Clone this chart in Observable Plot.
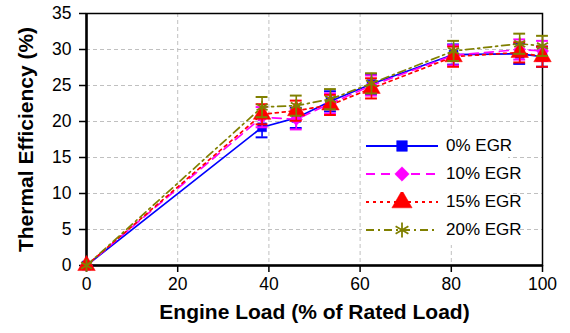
<!DOCTYPE html>
<html>
<head>
<meta charset="utf-8">
<script src="https://cdn.jsdelivr.net/npm/d3@7"></script>
<script src="https://cdn.jsdelivr.net/npm/@observablehq/plot@0.6"></script>
<style>
  html, body { margin: 0; padding: 0; background: #fff; }
  #wrap { position: relative; width: 570px; height: 333px; font-family: Arial, "Liberation Sans", sans-serif; }
  #legend { position: absolute; left: 362px; top: 133px; width: 146px; height: 112px; background: #fff; }
  .row { position: absolute; left: 0; height: 20px; display: flex; align-items: center; }
  .row svg { margin-left: 4px; }
  .row span { font-size: 17px; color: #000; margin-left: 8px; white-space: nowrap; }
</style>
</head>
<body>
<div id="wrap"><div id="legend"></div></div>
<script>
const load = [0, 38.5, 46, 53.5, 62.5, 80.5, 95, 100];
const egr0  = [0, 19.2, 20.5, 22.8, 25.2, 29.3, 29.4, 29.0];
const egr10 = [0, 20.6, 20.3, 22.5, 25.0, 29.2, 30.0, 29.8];
const egr15 = [0, 21.0, 21.5, 22.3, 24.6, 29.0, 29.6, 29.0];
const egr20 = [0, 22.0, 22.2, 23.1, 25.3, 29.8, 30.8, 30.5];
const errBar = [0, 1.4, 1.4, 1.4, 1.4, 1.4, 1.4, 1.4];
const seriesNames = ["0% EGR", "10% EGR", "15% EGR", "20% EGR"];
const xTicks = [0, 20, 40, 60, 80, 100];
const yTicks = [0, 5, 10, 15, 20, 25, 30, 35];

const styles = [
  {color: "#0000ff", dash: null, symbol: "square", r: 5, fill: true},
  {color: "#ff00ff", dash: "9,6", symbol: "diamond2", r: 5.5, fill: true},
  {color: "#ff0000", dash: "3,4", symbol: "triangle", r: 6.5, fill: true},
  {color: "#808000", dash: "8,4,2,4", symbol: "asterisk", r: 6, fill: false}
];
const values = [egr0, egr10, egr15, egr20];

const capHalf = 1.3;
const marks = [
  Plot.gridX(xTicks, {stroke: "#c0c0c0", strokeOpacity: 1, strokeDasharray: "4,3"}),
  Plot.gridY(yTicks, {stroke: "#c0c0c0", strokeOpacity: 1, strokeDasharray: "4,3"}),
  Plot.frame({stroke: "#000", strokeWidth: 1.5}),
  Plot.ruleX([0], {stroke: "#000", strokeWidth: 2.5}),
  Plot.ruleY([0], {stroke: "#000", strokeWidth: 2.5}),
  Plot.axisX(xTicks, {tickSize: 7, tickPadding: 5, fontSize: 17.5, label: null, stroke: "#000", strokeWidth: 1.5}),
  Plot.axisY(yTicks, {tickSize: 7, tickPadding: 8, fontSize: 17.5, label: null, stroke: "#000", strokeWidth: 1.5}),
  Plot.text(["Engine Load (% of Rated Load)"], {frameAnchor: "bottom", dy: 53, fontSize: 21, fontWeight: "bold", fill: "#000"}),
  Plot.text(["Thermal Efficiency (%)"], {frameAnchor: "left", dx: -60, rotate: -90, textAnchor: "middle", fontSize: 21, fontWeight: "bold", fill: "#000"})
];

values.forEach((vals, k) => {
  const st = styles[k];
  const data = load.map((x, i) => ({x, y: vals[i], e: errBar[i]}));
  const withErr = data.filter(d => d.e > 0);
  marks.push(
    Plot.line(data, {x: "x", y: "y", stroke: st.color, strokeWidth: 1.7, strokeDasharray: st.dash}),
    Plot.ruleX(withErr, {x: "x", y1: d => d.y - d.e, y2: d => d.y + d.e, stroke: st.color, strokeWidth: 1.6}),
    Plot.ruleY(withErr, {y: d => d.y + d.e, x1: d => d.x - capHalf, x2: d => d.x + capHalf, stroke: st.color, strokeWidth: 2}),
    Plot.ruleY(withErr, {y: d => d.y - d.e, x1: d => d.x - capHalf, x2: d => d.x + capHalf, stroke: st.color, strokeWidth: 2}),
    Plot.dot(data, {x: "x", y: "y", symbol: st.symbol, r: st.r,
      fill: st.fill ? st.color : "none", stroke: st.color, strokeWidth: st.fill ? 0.5 : 1.8})
  );
});

const chart = Plot.plot({
  width: 570, height: 333,
  marginLeft: 86, marginRight: 28, marginTop: 13, marginBottom: 68,
  style: {fontFamily: "Arial, 'Liberation Sans', sans-serif", color: "#000", background: "#fff", overflow: "visible"},
  x: {domain: [0, 100]},
  y: {domain: [0, 35]},
  marks
});
const wrap = document.getElementById("wrap");
wrap.insertBefore(chart, wrap.firstChild);

// legend
const legend = document.getElementById("legend");
const symGen = {
  square: d3.symbolSquare, diamond2: d3.symbolDiamond2, triangle: d3.symbolTriangle, asterisk: d3.symbolAsterisk
};
seriesNames.forEach((name, k) => {
  const st = styles[k];
  const row = document.createElement("div");
  row.className = "row";
  row.style.top = (3 + k * 28) + "px";
  const w = 72, h = 20;
  const svg = d3.create("svg").attr("width", w).attr("height", h);
  svg.append("line").attr("x1", 0).attr("x2", w).attr("y1", h / 2).attr("y2", h / 2)
    .attr("stroke", st.color).attr("stroke-width", 1.8).attr("stroke-dasharray", st.dash);
  const area = Math.PI * (st.r + 1) * (st.r + 1);
  svg.append("path").attr("transform", `translate(${w / 2},${h / 2})`)
    .attr("d", d3.symbol(symGen[st.symbol], area)())
    .attr("fill", st.fill ? st.color : "none").attr("stroke", st.color).attr("stroke-width", st.fill ? 0.5 : 1.8);
  row.appendChild(svg.node());
  const span = document.createElement("span");
  span.textContent = name;
  row.appendChild(span);
  legend.appendChild(row);
});
</script>
</body>
</html>
